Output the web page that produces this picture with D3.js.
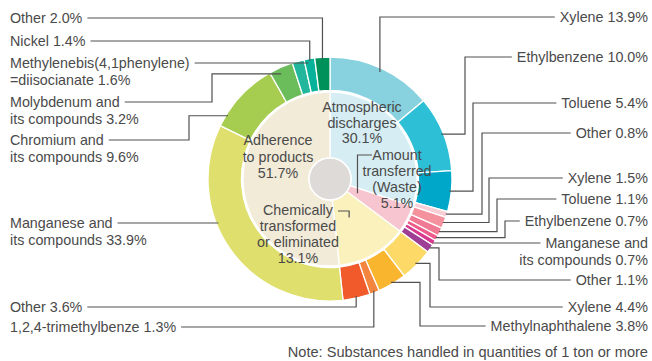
<!DOCTYPE html>
<html>
<head>
<meta charset="utf-8">
<script src="https://cdn.jsdelivr.net/npm/d3@7"></script>
<style>
  html, body { margin: 0; padding: 0; background: #fff; }
  svg { display: block; }
  text { font-family: "Liberation Sans", Arial, Helvetica, sans-serif; font-size: 14.3px; fill: #4a4a4a; }
  text.note { font-size: 14.6px; }
</style>
</head>
<body>
<svg id="chart" width="652" height="361"></svg>
<script>
// Release routes (inner ring) and substances (outer ring), shares in %
const groupNames = ["Atmospheric discharges", "Amount transferred (Waste)", "Chemically transformed or eliminated", "Adherence to products"];
const groupValues = [30.1, 5.1, 13.1, 51.7];
const groupColors = ["#d6eef3", "#f7c5cf", "#faf1bc", "#f2ebd8"];

const substanceNames = [
  "Xylene", "Ethylbenzene", "Toluene", "Other",
  "Xylene", "Toluene", "Ethylbenzene", "Manganese and its compounds", "Other",
  "Xylene", "Methylnaphthalene", "1,2,4-trimethylbenze", "Other",
  "Manganese and its compounds", "Chromium and its compounds", "Molybdenum and its compounds",
  "Methylenebis(4,1phenylene) =diisocianate", "Nickel", "Other"
];
const substanceValues = [
  13.9, 10.0, 5.4, 0.8,
  1.5, 1.1, 0.7, 0.7, 1.1,
  4.4, 3.8, 1.3, 3.6,
  33.9, 9.6, 3.2, 1.6, 1.4, 2.0
];
const substanceColors = [
  "#88d1de", "#2cbfd6", "#00a7c9", "#f9ced6",
  "#f4939d", "#f07a93", "#ec5b8a", "#d8398e", "#9d3f95",
  "#fdd967", "#f8b52d", "#f3853f", "#f15b2c",
  "#dfdf6e", "#a6cd50", "#6bbd5b", "#22b69d", "#06b39a", "#00905a"
];

// Label text for each outer slice (line breaks as drawn)
const substanceLabels = [
  ["Xylene 13.9%"], ["Ethylbenzene 10.0%"], ["Toluene 5.4%"], ["Other 0.8%"],
  ["Xylene 1.5%"], ["Toluene 1.1%"], ["Ethylbenzene 0.7%"], ["Manganese and", "its compounds 0.7%"], ["Other 1.1%"],
  ["Xylene 4.4%"], ["Methylnaphthalene 3.8%"], ["1,2,4-trimethylbenze 1.3%"], ["Other 3.6%"],
  ["Manganese and", "its compounds 33.9%"], ["Chromium and", "its compounds 9.6%"], ["Molybdenum and", "its compounds 3.2%"],
  ["Methylenebis(4,1phenylene)", "=diisocianate 1.6%"], ["Nickel 1.4%"], ["Other 2.0%"]
];
const groupLabels = [
  ["Atmospheric", "discharges", "30.1%"],
  ["Amount", "transferred", "(Waste)", "5.1%"],
  ["Chemically", "transformed", "or eliminated", "13.1%"],
  ["Adherence", "to products", "51.7%"]
];
const noteText = "Note: Substances handled in quantities of 1 ton or more";

// ---- layout ----
const W = 652, H = 361;
const cx = 330, cy = 179;
const rHole = 21, rInner = 87, rOuterIn = 88.5, rOuter = 122;
const lineH = 16.5;
const rightX = 648, leftX = 10;

// Callout placement: side, first-line centre y, route kind, elbow x, anchor fraction within slice, anchor radius
// kind "v": along label row then vertical to slice; "e": elbow at x; "h": straight horizontal row into ring
const callouts = [
  {side: "r", y: 17,  kind: "v", r: 118},
  {side: "r", y: 57,  kind: "e", ex: 465, r: 120},
  {side: "r", y: 103, kind: "e", ex: 473, r: 120},
  {side: "r", y: 133, kind: "e", ex: 482, r: 121},
  {side: "r", y: 178, kind: "e", ex: 489, r: 121},
  {side: "r", y: 199, kind: "e", ex: 497, r: 121},
  {side: "r", y: 221, kind: "e", ex: 505, r: 121},
  {side: "r", y: 243, kind: "h", r: 121},
  {side: "r", y: 280, kind: "e", ex: 439, r: 121},
  {side: "r", y: 307, kind: "e", ex: 430, r: 120},
  {side: "r", y: 326, kind: "e", ex: 420, r: 120},
  {side: "l", y: 327, kind: "v", r: 120},
  {side: "l", y: 307, kind: "v", r: 120},
  {side: "l", y: 223, kind: "h", r: 120},
  {side: "l", y: 140, kind: "e", ex: 189, t: 0.17, r: 120},
  {side: "l", y: 102, kind: "e", ex: 212, t: 0.4, r: 116},
  {side: "l", y: 63,  kind: "h", r: 118},
  {side: "l", y: 41,  kind: "v", r: 120},
  {side: "l", y: 18,  kind: "v", r: 120}
];

const groupLabelPos = [
  {x: 362, y: 107, lh: 15.5},
  {x: 397, y: 155, lh: 16},
  {x: 298, y: 210, lh: 16},
  {x: 278, y: 140, lh: 16.5}
];

const svg = d3.select("#chart");
const g = svg.append("g").attr("transform", `translate(${cx},${cy})`);

const pie = d3.pie().sort(null).value(d => d);
const groupArcs = pie(groupValues);
const subArcs = pie(substanceValues);

const arcInner = d3.arc().innerRadius(rHole).outerRadius(rInner);
const arcOuter = d3.arc().innerRadius(rOuterIn).outerRadius(rOuter);

g.selectAll("path.outer").data(subArcs).join("path")
  .attr("class", "outer")
  .attr("d", arcOuter)
  .attr("fill", (d, i) => substanceColors[i])
  .attr("stroke", "#fff").attr("stroke-width", 1.3);

g.selectAll("path.inner").data(groupArcs).join("path")
  .attr("class", "inner")
  .attr("d", arcInner)
  .attr("fill", (d, i) => groupColors[i])
  .attr("stroke", "#fff").attr("stroke-width", 1.3);

g.append("circle").attr("r", rHole)
  .attr("fill", "#dedad8").attr("stroke", "#fff").attr("stroke-width", 1.5);

// polar point in page coordinates (angle measured clockwise from 12 o'clock)
const polar = (a, r) => [cx + r * Math.sin(a), cy - r * Math.cos(a)];

const leaders = svg.append("g")
  .attr("fill", "none").attr("stroke", "#505050").attr("stroke-width", 1.2);
const labels = svg.append("g");

subArcs.forEach((d, i) => {
  const c = callouts[i];
  const lines = substanceLabels[i];
  const txt = labels.append("text")
    .attr("text-anchor", c.side === "r" ? "end" : "start");
  lines.forEach((ln, k) => {
    txt.append("tspan")
      .attr("x", c.side === "r" ? rightX : leftX)
      .attr("y", c.y + 5 + k * lineH)
      .text(ln);
  });
  const firstLen = txt.select("tspan").node().getComputedTextLength();
  const textEdge = c.side === "r" ? rightX - firstLen - 5 : leftX + firstLen + 5;

  let pts;
  if (c.kind === "h") {
    const dy = c.y - cy;
    const dx = Math.sqrt(c.r * c.r - dy * dy);
    const ax = c.side === "r" ? cx + dx : cx - dx;
    pts = [[textEdge, c.y], [ax, c.y]];
  } else {
    const t = c.t == null ? 0.5 : c.t;
    const a = d.startAngle + t * (d.endAngle - d.startAngle);
    const [ax, ay] = polar(a, c.r);
    if (c.kind === "v") {
      pts = [[textEdge, c.y], [ax, c.y], [ax, ay]];
    } else {
      pts = [[textEdge, c.y], [c.ex, c.y], [c.ex, ay], [ax, ay]];
    }
  }
  leaders.append("path").attr("d", d3.line()(pts));
});

// inner ring labels
groupArcs.forEach((d, i) => {
  const p = groupLabelPos[i];
  const txt = labels.append("text").attr("text-anchor", "middle");
  groupLabels[i].forEach((ln, k) => {
    txt.append("tspan").attr("x", p.x).attr("y", p.y + 5 + k * p.lh).text(ln);
  });
});

// bracket leaders for the two inner labels that point into their slice
{
  const w = groupArcs[1];
  const [ax, ay] = polar((w.startAngle + w.endAngle) / 2, 31);
  leaders.append("path").attr("d", d3.line()([[372, 155], [ax, 155], [ax, ay]]));
  const c = groupArcs[2];
  const [bx, by] = polar(c.startAngle + 0.57 * (c.endAngle - c.startAngle), 43);
  leaders.append("path").attr("d", d3.line()([[338, 211], [bx, 211], [bx, by]]));
}

labels.append("text")
  .attr("class", "note")
  .attr("text-anchor", "end")
  .attr("x", rightX).attr("y", 357)
  .text(noteText);
</script>
</body>
</html>
